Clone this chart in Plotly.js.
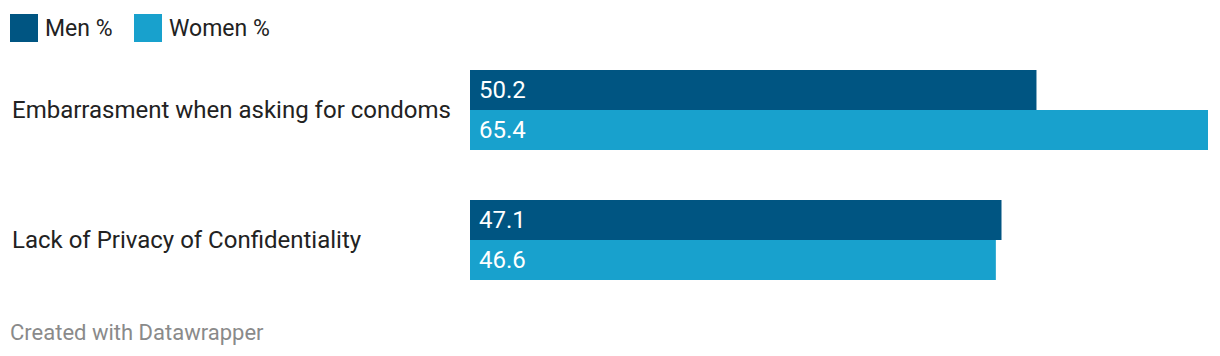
<!DOCTYPE html>
<html>
<head>
<meta charset="utf-8">
<script src="https://cdn.plot.ly/plotly-3.0.1.min.js"></script>
<style>html,body{margin:0;padding:0;background:#fff;}#chart{width:1220px;height:356px;}</style>
</head>
<body>
<div id="chart"></div>
<script>
const categories = ["Embarrasment when asking for condoms", "Lack of Privacy of Confidentiality"];
const menValues = [50.2, 47.1];
const womenValues = [65.4, 46.6];
const seriesNames = ["Men %", "Women %"];
const colors = ["#005582", "#18a1cd"];
const footer = "Created with Datawrapper";

const W = 1220, H = 356;
const L = 470, R = 1208, T = 45, B = 305;
const pw = R - L, ph = B - T;
const px = X => (X - L) / pw;
const py = Y => (B - Y) / ph;
const FONT = "Roboto, 'Noto Sans', sans-serif";

function barTrace(name, vals, color) {
  return {
    type: "bar", orientation: "h", name: name,
    y: categories, x: vals,
    marker: {color: color, line: {width: 0}},
    text: vals.map(v => v.toFixed(1)),
    texttemplate: "\u00a0%{text}",
    textposition: "inside", insidetextanchor: "start",
    textfont: {color: "#ffffff", size: 24, family: FONT},
    hoverinfo: "skip", cliponaxis: false
  };
}

const data = [barTrace(seriesNames[0], menValues, colors[0]), barTrace(seriesNames[1], womenValues, colors[1])];

const shapes = [];
const annotations = [];
const legendSq = [[10, 14], [134, 14]];
const legendTx = [43, 167];
seriesNames.forEach((n, i) => {
  shapes.push({type: "rect", xref: "paper", yref: "paper",
    x0: px(legendSq[i][0]), x1: px(legendSq[i][0] + 28),
    y0: py(legendSq[i][1] + 28), y1: py(legendSq[i][1]),
    fillcolor: colors[i], line: {width: 0}});
  annotations.push({xref: "paper", yref: "paper", x: px(legendTx[i]), y: py(28),
    xanchor: "left", yanchor: "middle", text: n, showarrow: false,
    font: {size: 23, color: "#222", family: FONT}});
});
categories.forEach(c => {
  annotations.push({xref: "paper", yref: "y", x: px(10), y: c,
    xanchor: "left", yanchor: "middle", text: c, showarrow: false,
    font: {size: 24, color: "#222", family: FONT}});
});
annotations.push({xref: "paper", yref: "paper", x: px(8), y: py(332),
  xanchor: "left", yanchor: "middle", text: footer, showarrow: false,
  font: {size: 22, color: "#8a8a8a", family: FONT}});

const layout = {
  width: W, height: H,
  margin: {l: L, r: W - R, t: T, b: H - B, pad: 0},
  paper_bgcolor: "#fff", plot_bgcolor: "#fff",
  barmode: "group", bargap: 50 / 130, bargroupgap: 0,
  showlegend: false,
  xaxis: {range: [0, 65.4], visible: false, fixedrange: true},
  yaxis: {autorange: "reversed", showticklabels: false, showgrid: false, zeroline: false, showline: false, ticks: ""},
  shapes: shapes, annotations: annotations,
  font: {family: FONT}
};
Plotly.newPlot("chart", data, layout, {displayModeBar: false, staticPlot: true});
</script>
</body>
</html>
